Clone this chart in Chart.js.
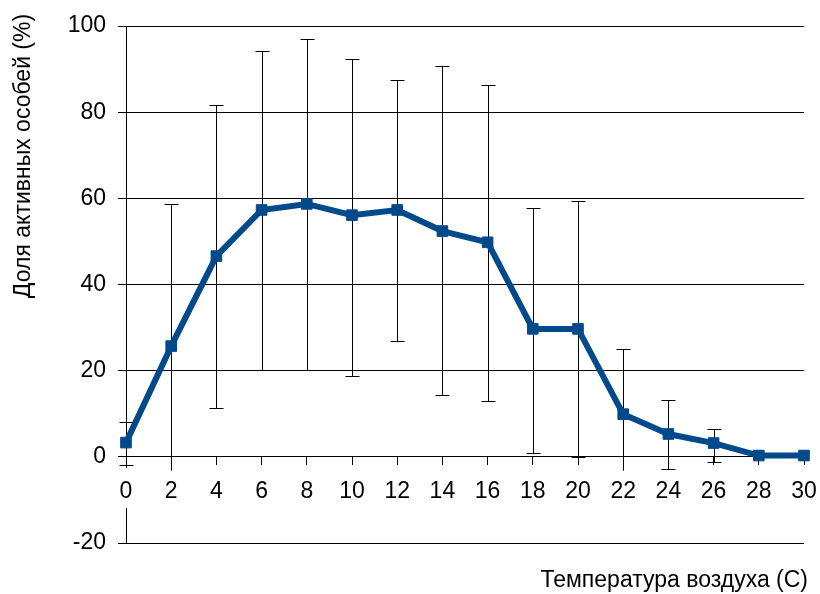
<!DOCTYPE html>
<html>
<head>
<meta charset="utf-8">
<script src="https://cdn.jsdelivr.net/npm/chart.js@4/dist/chart.umd.min.js"></script>
<style>
  html, body { margin: 0; padding: 0; background: #fff; }
  #wrap { width: 820px; height: 594px; position: relative; }
</style>
</head>
<body>
<div id="wrap"><canvas id="c" width="820" height="594"></canvas></div>
<script>
// Data
const temperatures = [0, 2, 4, 6, 8, 10, 12, 14, 16, 18, 20, 22, 24, 26, 28, 30];
const activeShare  = [3.3, 25.7, 46.6, 57.3, 58.7, 56.1, 57.3, 52.4, 49.8, 29.7, 29.7, 9.9, 5.3, 3.2, 0.3, 0.3];
const errorUpper   = [8.1, 58.6, 81.7, 94.1, 96.9, 92.4, 87.5, 90.6, 86.2, 57.8, 59.4, 25.1, 13.1, 6.4, null, null];
const errorLower   = [-2.0, -7.2, 11.3, 20.1, 20.1, 18.8, 26.9, 14.4, 13.0, 1.0, 0.0, -5.3, -2.9, -1.3, null, null];
const yTicks = [-20, 0, 20, 40, 60, 80, 100];
const yTitle = 'Доля активных особей (%)';
const xTitle = 'Температура воздуха (С)';

const FONT = "'Liberation Sans', Arial, sans-serif";
const FONT_SIZE = 23;
const LINE_COLOR = '#004a8c';

// error bars + y axis line (with the gap where the x labels sit)
const errorBars = {
  id: 'errorBars',
  beforeDatasetsDraw(chart) {
    const ctx = chart.ctx;
    const xs = chart.scales.x, ys = chart.scales.y;
    const y0 = ys.getPixelForValue(0);
    ctx.save();
    ctx.strokeStyle = '#000';
    ctx.lineWidth = 1;
    // y axis line
    const ax = Math.round(chart.chartArea.left) + 0.5;
    ctx.beginPath();
    ctx.moveTo(ax, ys.top); ctx.lineTo(ax, y0 + 11);
    ctx.moveTo(ax, y0 + 51); ctx.lineTo(ax, ys.bottom);
    ctx.stroke();
    // clip the bars above the tick-label band
    ctx.beginPath();
    ctx.rect(0, 0, chart.width, y0 + 14);
    ctx.clip();
    temperatures.forEach((t, i) => {
      const hi = errorUpper[i], lo = errorLower[i];
      if (hi == null || lo == null) return;
      const x = Math.round(xs.getPixelForValue(t)) + 0.5;
      const yh = Math.round(ys.getPixelForValue(hi)) + 0.5;
      const yl = Math.round(ys.getPixelForValue(lo)) + 0.5;
      ctx.beginPath();
      ctx.moveTo(x, yh); ctx.lineTo(x, yl);
      ctx.moveTo(x - 7, yh); ctx.lineTo(x + 7, yh);
      ctx.moveTo(x - 7, yl); ctx.lineTo(x + 7, yl);
      ctx.stroke();
    });
    ctx.restore();
  }
};

const titles = {
  id: 'titles',
  afterDraw(chart) {
    const ctx = chart.ctx;
    ctx.save();
    ctx.fillStyle = '#000';
    ctx.font = FONT_SIZE + 'px ' + FONT;
    ctx.textAlign = 'right';
    ctx.textBaseline = 'alphabetic';
    ctx.fillText(xTitle, 808, 587);
    ctx.translate(30, 156);
    ctx.rotate(-Math.PI / 2);
    ctx.textAlign = 'center';
    ctx.fillText(yTitle, 0, 0);
    ctx.restore();
  }
};

new Chart(document.getElementById('c'), {
  type: 'line',
  data: {
    datasets: [{
      data: temperatures.map((t, i) => ({ x: t, y: activeShare[i] })),
      borderColor: LINE_COLOR,
      backgroundColor: LINE_COLOR,
      borderWidth: 6,
      pointStyle: 'rect',
      pointRadius: 7.5,
      pointBorderWidth: 1,
      pointBorderColor: LINE_COLOR,
      pointBackgroundColor: LINE_COLOR,
      tension: 0,
      fill: false,
      clip: false
    }]
  },
  options: {
    responsive: false,
    animation: false,
    devicePixelRatio: 1,
    layout: { padding: { left: 0, right: 16, top: 26, bottom: 51 } },
    plugins: { legend: { display: false }, tooltip: { enabled: false } },
    scales: {
      x: {
        type: 'linear',
        position: { y: 0 },
        min: 0, max: 30,
        z: 1,
        afterFit(s) { s.height = 0; s.paddingLeft = 0; s.paddingRight = 0; },
        afterBuildTicks(s) { s.ticks = temperatures.map(v => ({ value: v })); },
        grid: { drawOnChartArea: false, drawTicks: true, tickLength: 8, color: '#000', lineWidth: 1 },
        border: { display: false },
        ticks: {
          color: '#000',
          font: { size: FONT_SIZE, family: FONT },
          padding: 13,
          maxRotation: 0,
          autoSkip: false
        }
      },
      y: {
        min: -20, max: 100,
        afterFit(s) { s.width = 126; s.paddingTop = 0; s.paddingBottom = 0; },
        afterBuildTicks(s) { s.ticks = yTicks.map(v => ({ value: v })); },
        grid: { color: '#000', lineWidth: 1, tickLength: 8, drawTicks: true },
        border: { display: false },
        ticks: {
          color: '#000',
          font: { size: FONT_SIZE, family: FONT },
          padding: 12
        }
      }
    }
  },
  plugins: [errorBars, titles]
});
</script>
</body>
</html>
